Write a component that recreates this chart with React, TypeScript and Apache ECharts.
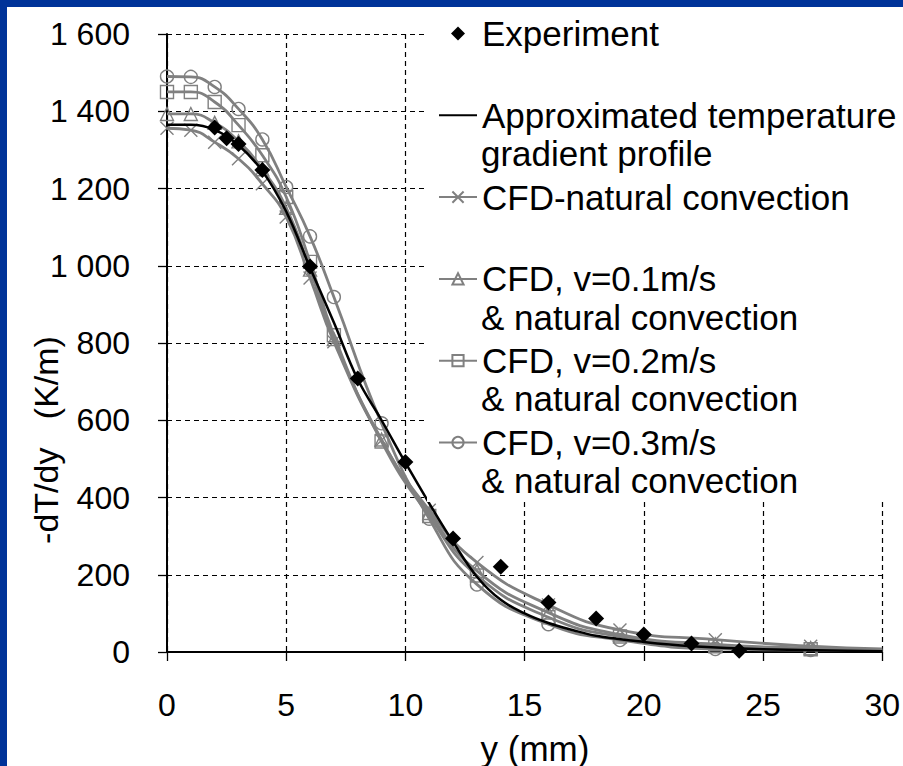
import React, { useEffect, useRef } from "react";
import * as echarts from "echarts";

const FONT = "'Liberation Sans', Arial, sans-serif";

// Experiment (diamonds)
const expX = [2, 2.5, 3, 4, 6, 8, 10, 12, 14, 16, 18, 20, 22, 24];
const expY = [1358, 1330, 1315, 1248, 998, 708, 492, 294, 221, 128, 87, 45, 22, 3];

// Approximated temperature gradient profile
const apxX = [0, 1, 2, 3, 4, 5, 6, 7, 8, 9, 10, 11, 12, 13, 14, 15, 16, 17, 18, 20, 22, 25, 30];
const apxY = [1365, 1365, 1352, 1312, 1245, 1140, 995, 853, 706, 600, 490, 385, 285, 195, 135, 100, 75, 57, 42, 26, 15, 7, 2];

// CFD series (markers at all points but the last one, x = 30)
const cfdX = [0, 1, 2, 3, 4, 5, 6, 7, 9, 11, 13, 16, 19, 23, 27, 30];
const cfdNatural = [1356, 1351, 1320, 1277, 1212, 1126, 968, 803, 548, 367, 232, 122, 57, 32, 15, 8];
const cfdV01 = [1393, 1393, 1370, 1322, 1250, 1150, 990, 810, 550, 360, 210, 102, 45, 20, 10, 6];
const cfdV02 = [1450, 1450, 1424, 1364, 1286, 1178, 1010, 820, 545, 352, 198, 90, 40, 15, 7, 5];
const cfdV03 = [1490, 1489, 1463, 1406, 1327, 1204, 1076, 919, 592, 345, 175, 72, 31, 8, 5, 4];

const names = [
  "Experiment",
  "Approximated temperature",
  "CFD-natural convection",
  "CFD, v=0.1m/s",
  "CFD, v=0.2m/s",
  "CFD, v=0.3m/s",
];

const xTicks = { min: 0, max: 30, interval: 5 };
const yTicks = { min: 0, max: 1600, interval: 200 };

const GRAY = "#808080";

function cfdData(vals: number[]) {
  return cfdX.map((x, i) =>
    i === cfdX.length - 1 ? { value: [x, vals[i]], symbol: "none" } : [x, vals[i]]
  );
}

function cfdSeries(name: string, vals: number[], symbol: string) {
  return {
    name,
    type: "line",
    data: cfdData(vals),
    smooth: 0.5,
    symbol,
    symbolSize: 13,
    showAllSymbol: true,
    itemStyle: { color: "rgba(255,255,255,0)", borderColor: GRAY, borderWidth: 1.4 },
    lineStyle: { color: GRAY, width: 2.8 },
    z: 2,
  };
}

function fmtY(v: number) {
  if (v >= 1000) {
    return Math.floor(v / 1000) + " " + String(v % 1000).padStart(3, "0");
  }
  return String(v);
}

export default function App() {
  const ref = useRef<HTMLDivElement>(null);
  useEffect(() => {
    if (!ref.current) return;
    const chart = echarts.init(ref.current, undefined, { renderer: "svg" });
    const contY = [153, 317, 398, 480];
    const contT = ["gradient profile", "& natural convection", "& natural convection", "& natural convection"];
    chart.setOption({
      animation: false,
      backgroundColor: "#fff",
      grid: { left: 167, right: 19, top: 34, bottom: 114, containLabel: false },
      xAxis: {
        type: "value",
        min: xTicks.min,
        max: xTicks.max,
        interval: xTicks.interval,
        axisLine: { show: true, onZero: false, lineStyle: { color: "#000", width: 2 } },
        axisTick: { show: true, inside: false, length: 9, lineStyle: { color: "#000", width: 1.3 } },
        axisLabel: { color: "#000", fontSize: 32, fontFamily: FONT, margin: 37 },
        splitLine: { show: true, lineStyle: { color: "#000", width: 1.2, type: [5, 4] } },
      },
      yAxis: {
        type: "value",
        min: yTicks.min,
        max: yTicks.max,
        interval: yTicks.interval,
        axisLine: { show: true, lineStyle: { color: "#000", width: 2 } },
        axisTick: { show: true, inside: false, length: 9, lineStyle: { color: "#000", width: 1.3 } },
        axisLabel: { color: "#000", fontSize: 32, fontFamily: FONT, margin: 37, formatter: fmtY },
        splitLine: { show: true, lineStyle: { color: "#000", width: 1.2, type: [5, 4] } },
      },
      legend: {
        orient: "vertical",
        left: 427,
        top: 8,
        padding: [8, 10, 42, 11],
        backgroundColor: "#fff",
        itemWidth: 38,
        itemHeight: 14,
        itemGap: 46.8,
        selectedMode: false,
        symbolKeepAspect: true,
        textStyle: { fontSize: 35, lineHeight: 35, color: "#000", fontFamily: FONT },
        data: [
          { name: names[0], icon: "path://M5,0L10,5L5,10L0,5Z", itemStyle: { color: "#000", opacity: 1 } },
          { name: names[1], itemStyle: { color: "rgba(0,0,0,0)", borderWidth: 0, opacity: 0 } },
          names[2],
          names[3],
          names[4],
          names[5],
        ],
        z: 10,
      },
      graphic: [
        ...contT.map((t, i) => ({
          type: "text",
          x: 481,
          y: contY[i],
          z: 100,
          style: { text: t, fontSize: 35, fontFamily: FONT, fill: "#000", textAlign: "left", verticalAlign: "middle" },
        })),
        {
          type: "text",
          x: 46,
          y: 440,
          rotation: Math.PI / 2,
          z: 100,
          style: { text: "-dT/dy   (K/m)", fontSize: 34, fontFamily: FONT, fill: "#000", textAlign: "center", verticalAlign: "middle" },
        },
        {
          type: "text",
          x: 535,
          y: 748,
          z: 100,
          style: { text: "y (mm)", fontSize: 35, fontFamily: FONT, fill: "#000", textAlign: "center", verticalAlign: "middle" },
        },
        { type: "rect", z: 200, shape: { x: 0, y: 0, width: 903, height: 7 }, style: { fill: "#003399" } },
        { type: "rect", z: 200, shape: { x: 0, y: 0, width: 7, height: 766 }, style: { fill: "#003399" } },
      ],
      series: [
        cfdSeries(names[2], cfdNatural, "path://M0,0L10,10M10,0L0,10"),
        cfdSeries(names[3], cfdV01, "triangle"),
        cfdSeries(names[4], cfdV02, "rect"),
        cfdSeries(names[5], cfdV03, "circle"),
        {
          name: names[1],
          type: "line",
          data: apxX.map((x, i) => [x, apxY[i]]),
          smooth: 0.4,
          symbol: "none",
          itemStyle: { color: "#000" },
          lineStyle: { color: "#000", width: 2.5 },
          z: 3,
        },
        {
          name: names[0],
          type: "scatter",
          data: expX.map((x, i) => [x, expY[i]]),
          symbol: "diamond",
          symbolSize: 16,
          itemStyle: { color: "#000", opacity: 1 },
          z: 5,
        },
      ],
    });
    return () => chart.dispose();
  }, []);
  return (
    <div
      ref={ref}
      style={{ position: "fixed", left: 0, top: 0, width: 903, height: 766 }}
    />
  );
}
